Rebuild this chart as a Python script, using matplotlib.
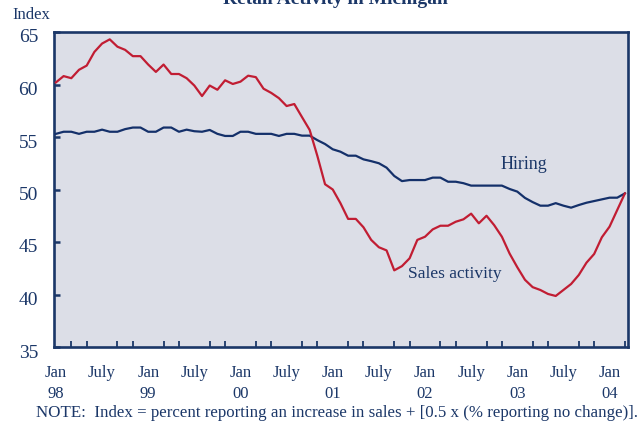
#!/usr/bin/env python3
"""Retail activity in Michigan: sales activity and hiring indexes, Jan 1998 - Mar 2004."""
import numpy as np
import matplotlib
matplotlib.use("Agg")
import matplotlib.pyplot as plt
import matplotlib.transforms as mtrans

# Monthly index values (Jan 98 .. Mar 04)
months = np.arange(75)

sales = [60.2, 60.8, 60.6, 61.4, 61.8, 63.1, 63.9, 64.3, 63.6, 63.3, 62.7, 62.7,
         61.9, 61.2, 61.9, 61.0, 61.0, 60.6, 59.9, 58.9, 59.9, 59.5, 60.4, 60.05,
         60.27, 60.84, 60.7, 59.6, 59.2, 58.7, 57.95, 58.14, 56.9, 55.67, 53.2, 50.5,
         50.0, 48.7, 47.2, 47.2, 46.4, 45.2, 44.5, 44.2, 42.3, 42.7, 43.45, 45.2,
         45.5, 46.2, 46.55, 46.55, 46.93, 47.16, 47.7, 46.78, 47.5, 46.6, 45.5, 43.9,
         42.6, 41.4, 40.7, 40.43, 40.05, 39.86, 40.43, 41.0, 41.86, 43.03, 43.86, 45.45,
         46.46, 48.05, 49.63]

hiring = [55.3, 55.5, 55.5, 55.3, 55.5, 55.5, 55.7, 55.5, 55.5, 55.75, 55.9, 55.9,
          55.5, 55.5, 55.9, 55.9, 55.5, 55.7, 55.55, 55.5, 55.67, 55.3, 55.1, 55.1,
          55.5, 55.5, 55.3, 55.3, 55.3, 55.1, 55.3, 55.3, 55.13, 55.13, 54.7, 54.33,
          53.83, 53.6, 53.22, 53.22, 52.87, 52.7, 52.5, 52.08, 51.29, 50.8, 50.9, 50.9,
          50.9, 51.13, 51.13, 50.74, 50.74, 50.6, 50.37, 50.37, 50.37, 50.37, 50.37, 50.05,
          49.8, 49.2, 48.8, 48.46, 48.46, 48.7, 48.46, 48.27, 48.52, 48.74, 48.9, 49.06,
          49.22, 49.22, 49.63]

xtick_pos = [0, 6, 12, 18, 24, 30, 36, 42, 48, 54, 60, 66, 72]
xtick_labels = ["Jan\n98", "July", "Jan\n99", "July", "Jan\n00", "July", "Jan\n01",
                "July", "Jan\n02", "July", "Jan\n03", "July", "Jan\n04"]
ytick_pos = [35, 40, 45, 50, 55, 60, 65]

NAVY = "#1b3768"
BLUE_LINE = "#14306a"
RED_LINE = "#c11d33"
FACE = "#dcdee7"

plt.rcParams["font.family"] = ["Liberation Serif", "DejaVu Serif"]

fig = plt.figure(figsize=(6.41, 4.24), dpi=100)
ax = fig.add_axes([54 / 641, 1 - 347 / 424, (628 - 54) / 641, (347 - 32) / 424])
ax.set_facecolor(FACE)

ax.plot(months, hiring, color=BLUE_LINE, lw=1.6, zorder=3)
ax.plot(months, sales, color=RED_LINE, lw=1.6, zorder=3)

ax.set_xlim(-0.25, 74.4)
ax.set_ylim(35, 65)

# frame
for sp in ax.spines.values():
    sp.set_color(NAVY)
    sp.set_linewidth(1.9)

# x axis: labels every 6 months, small inward ticks every 2 months
ax.set_xticks(xtick_pos)
ax.set_xticklabels(xtick_labels, fontsize=12, color=NAVY, linespacing=1.4, va="top")
ax.set_xticks(np.arange(0, 75, 2), minor=True)
ax.tick_params(axis="x", which="major", length=0, pad=13)
ax.tick_params(axis="x", which="minor", direction="in", length=4, width=1.3, color=NAVY)

# y axis
ax.set_yticks(ytick_pos)
ax.set_yticklabels([str(v) for v in ytick_pos], fontsize=14, color=NAVY)
ax.tick_params(axis="y", which="major", direction="in", length=4, width=1.8,
               color=NAVY, pad=11.5)
shift = mtrans.ScaledTranslation(0, -4 / 100, fig.dpi_scale_trans)
for lbl in ax.get_yticklabels():
    lbl.set_transform(lbl.get_transform() + shift)

# annotations
ax.text(60.8, 52.4, "Hiring", fontsize=13, color=NAVY, ha="center", va="center")
ax.text(51.9, 42.0, "Sales activity", fontsize=12.5, color=NAVY, ha="center", va="center")

fig.text(12 / 641, 1 - 15 / 424, "Index", fontsize=12, color=NAVY, ha="left", va="center")
fig.text(335 / 641, 1 - 4 / 424, "Retail Activity in Michigan", fontsize=14,
         fontweight="bold", color=NAVY, ha="center", va="baseline")
fig.text(337 / 641, 1 - 413 / 424,
         "NOTE:  Index = percent reporting an increase in sales + [0.5 x (% reporting no change)].",
         fontsize=12.2, color=NAVY, ha="center", va="center")

fig.savefig("out.png", dpi=100)
